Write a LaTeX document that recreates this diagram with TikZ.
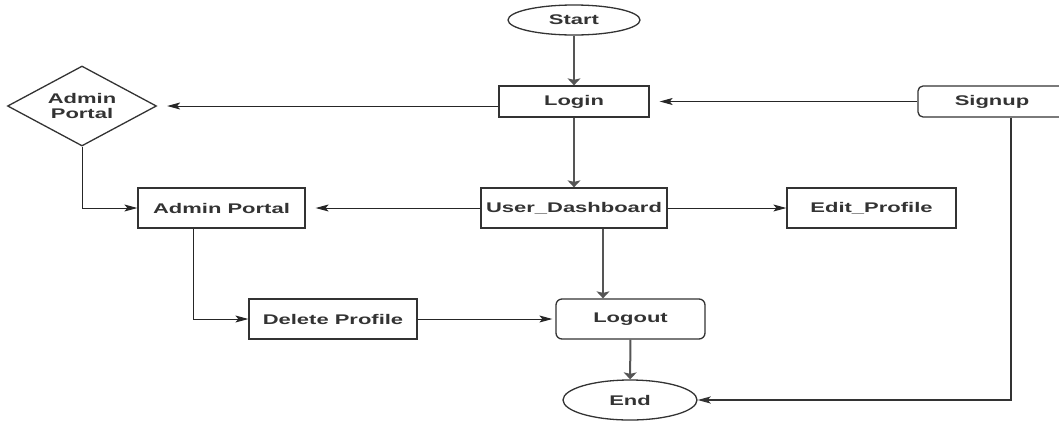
\documentclass[tikz,border=0pt]{standalone}
\usepackage{fontspec}
\setmainfont{Liberation Sans}
\usepackage{graphicx}
\usetikzlibrary{shapes.geometric,arrows.meta}
\newcommand{\sx}[1]{\scalebox{1.57}[1]{#1}}
\definecolor{ink}{HTML}{333333}
\definecolor{fl}{HTML}{555555}
\begin{document}
\begin{tikzpicture}[x=1pt,y=-1pt,
  every node/.style={font=\fontsize{14}{15}\selectfont\bfseries, text=ink, inner sep=0pt},
  box/.style={draw=ink, line width=1.3pt, rectangle},
  rbox/.style={draw=ink, line width=1.3pt, rectangle, rounded corners=6pt},
  oval/.style={draw=ink, line width=1.3pt, ellipse},
  dia/.style={draw=ink, line width=1.3pt, diamond, aspect=1.86, align=center},
  hthin/.style={draw=black!85, line width=1pt, -{Stealth[length=13pt,width=7pt,inset=3pt]}},
  vthick/.style={draw=fl, line width=2pt, -{Stealth[length=7pt,width=13pt,inset=1.5pt]}, black},
  hthick/.style={draw=black!80, line width=1.8pt, -{Stealth[length=13pt,width=7pt,inset=3pt]}}
]
\useasboundingbox (0,0) rectangle (1059,421);
\clip (0,0) rectangle (1059,421);

\node[oval, minimum width=132pt, minimum height=30pt] (start) at (574,20) {\sx{Start}};
\node[box, minimum width=150pt, minimum height=31pt] (login) at (574,101.5) {\sx{Login}};
\node[rbox, rounded corners=5pt, minimum width=148pt, minimum height=31pt] (signup) at (992,101.5) {\sx{Signup}};
\node[dia, minimum width=149pt, minimum height=80pt] (adm) at (82,106) {\sx{Admin}\\\sx{Portal}};
\node[box, minimum width=186pt, minimum height=40pt] (ud) at (574,208) {\sx{User\_Dashboard}};
\node[box, minimum width=167pt, minimum height=40pt] (ap) at (221.5,208) {\sx{Admin Portal}};
\node[box, minimum width=169pt, minimum height=40pt] (ep) at (871.5,208) {\sx{Edit\_Profile}};
\node[box, minimum width=168pt, minimum height=40pt] (dp) at (333,319) {\sx{Delete Profile}};
\node[rbox, minimum width=149pt, minimum height=40pt] (lo) at (630.5,319) {\sx{Logout}};
\node[oval, minimum width=134pt, minimum height=40pt] (end) at (630,400) {\sx{End}};

\draw[vthick, draw=fl] (start) -- (login);
\draw[hthin, shorten >=10pt] (signup.west) -- (login.east);
\draw[hthin, shorten >=10pt] ([yshift=-4.5pt]login.west) -- (adm.east);
\draw[vthick, draw=fl] (login) -- (ud);
\draw[hthin] (adm.south) |- (ap.west);
\draw[hthin, shorten >=10pt] (ud.west) -- (ap.east);
\draw[hthin] (ud.east) -- (ep.west);
\draw[vthick, draw=fl] ([xshift=29pt]ud.south) -- ([xshift=29pt]ud.south |- lo.north);
\draw[hthin] ([xshift=-28.5pt]ap.south) |- (dp.west);
\draw[hthin, shorten >=3pt] (dp.east) -- (lo.west);
\draw[vthick, draw=fl] (lo) -- (end);
\draw[hthick] ([xshift=19pt]signup.south) |- (end.east);
\end{tikzpicture}
\end{document}
